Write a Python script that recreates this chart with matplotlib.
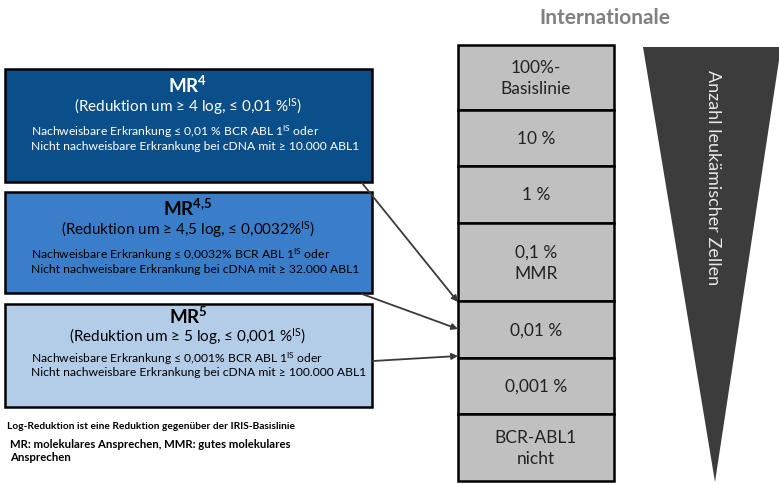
import matplotlib
matplotlib.use("Agg")
from matplotlib import pyplot as plt
from matplotlib.patches import Rectangle, Polygon

plt.rcParams['font.family'] = ['Lato', 'DejaVu Sans']

# left boxes: title, subtitle, two detail lines, colour
box_titles = ["MR$\\mathregular{^{4}}$", "MR$\\mathregular{^{4{,}5}}$", "MR$\\mathregular{^{5}}$"]
box_subtitles = ["(Reduktion um \u2265 4 log, \u2264 0,01 %$\\mathregular{^{IS}}$)",
                 "(Reduktion um \u2265 4,5 log, \u2264 0,0032%$\\mathregular{^{IS}}$)",
                 "(Reduktion um \u2265 5 log, \u2264 0,001 %$\\mathregular{^{IS}}$)"]
box_line1 = ["Nachweisbare Erkrankung \u2264 0,01 % BCR ABL 1$\\mathregular{^{IS}}$ oder",
             "Nachweisbare Erkrankung \u2264 0,0032% BCR ABL 1$\\mathregular{^{IS}}$ oder",
             "Nachweisbare Erkrankung \u2264 0,001% BCR ABL 1$\\mathregular{^{IS}}$ oder"]
box_line2 = ["Nicht nachweisbare Erkrankung bei cDNA mit \u2265 10.000 ABL1",
             "Nicht nachweisbare Erkrankung bei cDNA mit \u2265 32.000 ABL1",
             "Nicht nachweisbare Erkrankung bei cDNA mit \u2265 100.000 ABL1"]
box_colors = ["#0b4f8a", "#3a7dc9", "#b3cde9"]
box_text_colors = ["white", "black", "black"]

# right column cells
scale_labels = ["100%-\nBasislinie", "10 %", "1 %", "0,1 %\nMMR", "0,01 %", "0,001 %", "BCR-ABL1\nnicht"]
scale_edges = [46, 111, 167, 224, 302, 359, 415, 482]

header = "Internationale"
wedge_label = "Anzahl leuk\u00e4mischer Zellen"
notes = ["Log-Reduktion ist eine Reduktion gegen\u00fcber der IRIS-Basislinie",
         "MR: molekulares Ansprechen, MMR: gutes molekulares\nAnsprechen"]

fig = plt.figure(figsize=(7.79, 4.85), dpi=100)
ax = fig.add_axes([0, 0, 1, 1])
ax.set_xlim(0, 779)
ax.set_ylim(485, 0)
ax.axis('off')

# left boxes layout: (top, bottom) and text row offsets in pixels
box_rows = [(70, 183), (193, 294), (305, 408)]
row_offsets = [(15, 37, 62, 77), (15, 37, 62, 77), (11, 32, 54, 68)]
box_x0, box_x1 = 5, 372
for i, (y0, y1) in enumerate(box_rows):
    ax.add_patch(Rectangle((box_x0, y0), box_x1 - box_x0, y1 - y0,
                           facecolor=box_colors[i], edgecolor='black', lw=1.8, zorder=2))
    c = box_text_colors[i]
    o = row_offsets[i]
    ax.text(188, y0 + o[0], box_titles[i], ha='center', va='center', fontsize=13.5,
            fontweight='bold', color=c, zorder=3)
    ax.text(188, y0 + o[1], box_subtitles[i], ha='center', va='center', fontsize=11,
            color=c, zorder=3)
    ax.text(31, y0 + o[2], box_line1[i], ha='left', va='center', fontsize=8.7,
            color=c, zorder=3)
    ax.text(31, y0 + o[3], box_line2[i], ha='left', va='center', fontsize=8.7,
            color=c, zorder=3)

# notes below
ax.text(7, 427, notes[0], ha='left', va='center', fontsize=7.3, fontweight='bold')
ax.text(10, 451, notes[1], ha='left', va='center', fontsize=8.2, fontweight='bold',
        linespacing=1.3)

# right column
col_x0, col_x1 = 458, 614
for i, lab in enumerate(scale_labels):
    y0, y1 = scale_edges[i], scale_edges[i + 1]
    ax.add_patch(Rectangle((col_x0, y0), col_x1 - col_x0, y1 - y0,
                           facecolor='#c0c0c0', edgecolor='black', lw=1.8, zorder=2))
    ax.text((col_x0 + col_x1) / 2, (y0 + y1) / 2, lab, ha='center', va='center',
            fontsize=12.5, color='#222222', linespacing=1.4, zorder=3)

ax.text(605, 18, header, ha='center', va='center', fontsize=15,
        fontweight='bold', color='#808080')

# arrows from boxes to the column
arrows = [((362, 184), (458, 303)), ((362, 295), (458, 330)), ((373, 362), (458, 357))]
for start, end in arrows:
    ax.annotate("", xy=end, xytext=start,
                arrowprops=dict(arrowstyle='-|>', color='#3a3a3a', lw=1.3,
                                mutation_scale=9, shrinkA=0, shrinkB=0), zorder=4)

# wedge
ax.add_patch(Polygon([(643, 48), (781, 48), (715, 483)], closed=True,
                     facecolor='#3c3c3c', edgecolor='none', zorder=2))
ax.text(713, 70, wedge_label, ha='center', va='top', rotation=-90,
        fontsize=13, color='#e8e8e8', zorder=3)

fig.savefig("out.png", dpi=100)
